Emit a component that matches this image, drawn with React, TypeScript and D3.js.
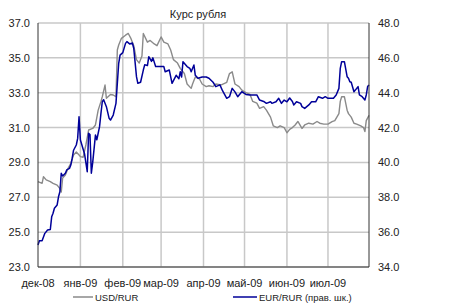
import React from "react";
import * as d3 from "d3";

const title = "Курс рубля";
const monthLabels = ["дек-08", "янв-09", "фев-09", "мар-09", "апр-09", "май-09", "июн-09", "июл-09"];
const monthStarts = ["2008-12-01", "2009-01-01", "2009-02-01", "2009-03-01", "2009-04-01", "2009-05-01", "2009-06-01", "2009-07-01"];
const leftTicks = [23, 25, 27, 29, 31, 33, 35, 37];
const rightTicks = [34, 36, 38, 40, 42, 44, 46, 48];
const seriesNames = ["USD/RUR", "EUR/RUR (прав. шк.)"];

const usdDates = [
  "2008-12-01","2008-12-04","2008-12-05","2008-12-07","2008-12-10","2008-12-12","2008-12-15","2008-12-17","2008-12-18","2008-12-19",
  "2008-12-21","2008-12-23","2008-12-25","2008-12-27","2008-12-29","2008-12-31","2009-01-01","2009-01-03","2009-01-05","2009-01-07",
  "2009-01-10","2009-01-12","2009-01-14","2009-01-16","2009-01-17","2009-01-19","2009-01-20","2009-01-23","2009-01-25","2009-01-27",
  "2009-01-28","2009-01-29","2009-01-31","2009-02-03","2009-02-05","2009-02-07","2009-02-09","2009-02-11","2009-02-13","2009-02-15",
  "2009-02-16","2009-02-19","2009-02-21","2009-02-24","2009-02-26","2009-03-01","2009-03-03","2009-03-06","2009-03-08","2009-03-10",
  "2009-03-13","2009-03-15","2009-03-18","2009-03-20","2009-03-23","2009-03-24","2009-03-26","2009-03-29","2009-03-31","2009-04-03",
  "2009-04-05","2009-04-08","2009-04-10","2009-04-14","2009-04-18","2009-04-20","2009-04-22","2009-04-24","2009-04-27","2009-04-29",
  "2009-05-02","2009-05-05","2009-05-07","2009-05-10","2009-05-12","2009-05-15","2009-05-17","2009-05-20","2009-05-22","2009-05-25",
  "2009-05-27","2009-05-30","2009-06-01","2009-06-03","2009-06-05","2009-06-07","2009-06-09","2009-06-12","2009-06-14","2009-06-17",
  "2009-06-20","2009-06-23","2009-06-25","2009-06-28","2009-07-01","2009-07-04","2009-07-06","2009-07-09","2009-07-10","2009-07-11",
  "2009-07-13","2009-07-15","2009-07-16","2009-07-18","2009-07-20","2009-07-22","2009-07-25","2009-07-27","2009-07-28","2009-07-29",
  "2009-07-31"
];
const usdValues = [
  27.9, 27.8, 28.18, 28.0, 27.9, 27.8, 27.7, 27.5, 27.3, 28.1,
  28.28, 28.66, 28.95, 29.43, 29.6, 29.43, 29.33, 29.3, 30.0, 30.86,
  30.95, 31.15, 32.0, 32.48, 32.77, 33.44, 32.68, 32.9, 32.87, 32.77,
  35.45, 35.74, 36.12, 36.3, 36.4, 36.1, 35.7, 34.9, 34.7, 35.1,
  36.4, 35.9, 36.0, 35.8, 35.7, 36.2, 35.9, 35.8, 35.45, 34.9,
  34.7, 34.4, 34.1, 33.5, 33.25, 33.5, 33.9, 33.8, 33.5, 33.35,
  33.4, 33.35, 33.5, 33.45, 33.6, 34.1, 34.2, 33.5, 33.35, 33.15,
  33.0, 32.9, 32.5, 32.4, 32.1, 32.2, 32.0, 31.6, 31.1, 31.0,
  31.1, 31.0, 30.7, 30.9, 31.0, 31.15, 31.35, 30.95, 31.15, 31.25,
  31.2, 31.35, 31.25, 31.2, 31.2, 31.34, 31.4, 31.8, 32.5, 32.77,
  32.77, 32.0, 31.8, 31.6, 31.25, 31.2, 31.1, 31.0, 30.77, 31.4,
  31.7
];

const eurDates = [
  "2008-12-01","2008-12-02","2008-12-04","2008-12-06","2008-12-08","2008-12-10","2008-12-11","2008-12-12","2008-12-13","2008-12-15",
  "2008-12-16","2008-12-17","2008-12-18","2008-12-19","2008-12-21","2008-12-22","2008-12-24","2008-12-25","2008-12-26","2008-12-27",
  "2008-12-29","2008-12-30","2008-12-31","2009-01-01","2009-01-04","2009-01-06","2009-01-07","2009-01-08","2009-01-09","2009-01-10",
  "2009-01-12","2009-01-13","2009-01-15","2009-01-16","2009-01-17","2009-01-18","2009-01-20","2009-01-22","2009-01-23","2009-01-25",
  "2009-01-27","2009-01-29","2009-01-30","2009-02-01","2009-02-03","2009-02-04","2009-02-06","2009-02-08","2009-02-09","2009-02-11",
  "2009-02-12","2009-02-14","2009-02-16","2009-02-17","2009-02-19","2009-02-20","2009-02-22","2009-02-23","2009-02-25","2009-02-27",
  "2009-03-03","2009-03-04","2009-03-07","2009-03-09","2009-03-12","2009-03-14","2009-03-15","2009-03-16","2009-03-17","2009-03-20",
  "2009-03-22","2009-03-23","2009-03-25","2009-03-26","2009-03-28","2009-03-31","2009-04-03","2009-04-05","2009-04-08","2009-04-10",
  "2009-04-13","2009-04-15","2009-04-18","2009-04-20","2009-04-22","2009-04-24","2009-04-26","2009-04-29","2009-05-02","2009-05-05",
  "2009-05-07","2009-05-10","2009-05-12","2009-05-15","2009-05-17","2009-05-20","2009-05-21","2009-05-24","2009-05-26","2009-05-28",
  "2009-05-30","2009-06-01","2009-06-03","2009-06-05","2009-06-06","2009-06-08","2009-06-11","2009-06-12","2009-06-14","2009-06-17",
  "2009-06-19","2009-06-22","2009-06-24","2009-06-27","2009-06-29","2009-07-01","2009-07-05","2009-07-07","2009-07-09","2009-07-10",
  "2009-07-11","2009-07-13","2009-07-15","2009-07-16","2009-07-17","2009-07-18","2009-07-20","2009-07-21","2009-07-23","2009-07-24",
  "2009-07-26","2009-07-28","2009-07-29","2009-07-30","2009-07-31"
];
const eurValues = [
  35.26, 35.5, 35.5, 35.93, 36.12, 36.15, 36.88, 37.08, 37.37, 37.56,
  38.03, 38.32, 39.38, 39.22, 39.38, 39.57, 39.66, 39.85, 40.24, 40.7,
  41.0, 41.38, 42.62, 41.29, 40.5, 39.47, 41.67, 41.6, 39.38, 40.0,
  41.57, 41.3, 42.05, 42.8, 43.48, 43.6, 43.2, 42.53, 42.43, 42.72,
  43.39, 45.69, 46.16, 46.3, 46.83, 46.93, 46.8, 46.85, 46.55, 44.92,
  44.54, 44.6, 45.3, 45.6, 45.56, 46.07, 45.8, 46.0, 45.5, 45.5,
  45.5, 45.2, 45.3, 44.54, 45.0, 44.8, 45.2, 44.9, 45.78, 45.5,
  45.4, 45.2, 45.59, 45.0, 44.83, 44.9, 44.9, 44.83, 44.6, 44.35,
  44.45, 44.1, 43.68, 43.77, 44.25, 44.05, 43.77, 44.06, 43.9, 43.87,
  43.87, 43.87, 43.58, 43.5, 43.39, 43.48, 43.39, 43.48, 43.68, 43.39,
  43.58, 43.48, 43.7, 43.5, 43.3, 43.48, 43.39, 43.2, 43.1, 43.3,
  43.48, 43.48, 43.77, 43.68, 43.77, 43.68, 43.68, 43.87, 44.25, 45.4,
  45.78, 45.78, 44.92, 44.83, 44.63, 44.6, 44.06, 44.15, 44.35, 43.87,
  43.77, 43.58, 43.87, 44.35, 44.44
];

const W = 474, H = 306;
const L = 38, R = 369, T = 23, B = 267;
const FONT = "'Liberation Sans', Arial, sans-serif";

export default function App() {
  const parse = d3.timeParse("%Y-%m-%d");
  const x = d3.scaleTime().domain([parse("2008-12-01")!, parse("2009-07-31")!]).range([L, R]);
  const yL = d3.scaleLinear().domain([23, 37]).range([B, T]);
  const yR = d3.scaleLinear().domain([34, 48]).range([B, T]);

  const usd = usdDates.map((d, i) => [parse(d)!, usdValues[i]] as [Date, number]);
  const eur = eurDates.map((d, i) => [parse(d)!, eurValues[i]] as [Date, number]);
  const lineL = d3.line<[Date, number]>().x(d => x(d[0])).y(d => yL(d[1]));
  const lineR = d3.line<[Date, number]>().x(d => x(d[0])).y(d => yR(d[1]));

  return (
    <svg width={W} height={H} style={{ position: "absolute", left: 0, top: 0 }} fontFamily={FONT}>
      <rect width={W} height={H} fill="#fff" />
      {leftTicks.map(t => (
        <line key={"h" + t} x1={L} x2={R} y1={yL(t)} y2={yL(t)} stroke="#c8c8c8" strokeWidth={1.5} />
      ))}
      {monthStarts.slice(1).map(m => (
        <line key={"v" + m} x1={x(parse(m)!)} x2={x(parse(m)!)} y1={T} y2={B} stroke="#c8c8c8" strokeWidth={1.5} />
      ))}
      <path d={lineL(usd)!} fill="none" stroke="#8a8a8a" strokeWidth={1.4} strokeLinejoin="round" />
      <path d={lineR(eur)!} fill="none" stroke="#000099" strokeWidth={1.5} strokeLinejoin="round" />
      <line x1={L} x2={L} y1={T} y2={B} stroke="#333" strokeWidth={1} />
      <line x1={R} x2={R} y1={T} y2={B} stroke="#333" strokeWidth={1} />
      <line x1={L} x2={R} y1={B} y2={B} stroke="#333" strokeWidth={1} />
      {leftTicks.map(t => (
        <text key={"lt" + t} x={30} y={yL(t) + 4} fontSize={11} textAnchor="end" fill="#222">{t.toFixed(1)}</text>
      ))}
      {rightTicks.map(t => (
        <text key={"rt" + t} x={378} y={yR(t) + 4} fontSize={11} textAnchor="start" fill="#222">{t.toFixed(1)}</text>
      ))}
      {monthStarts.map((m, i) => (
        <text key={"mt" + m} x={x(parse(m)!)} y={287} fontSize={11} textAnchor="middle" fill="#222">{monthLabels[i]}</text>
      ))}
      <text x={198} y={18} fontSize={11} textAnchor="middle" fill="#222">{title}</text>
      <line x1={73} x2={93} y1={297} y2={297} stroke="#8a8a8a" strokeWidth={1.5} />
      <text x={95} y={300.5} fontSize={9.5} fill="#222">{seriesNames[0]}</text>
      <line x1={233} x2={257} y1={297} y2={297} stroke="#000099" strokeWidth={1.5} />
      <text x={259} y={300.5} fontSize={9.5} fill="#222">{seriesNames[1]}</text>
    </svg>
  );
}
